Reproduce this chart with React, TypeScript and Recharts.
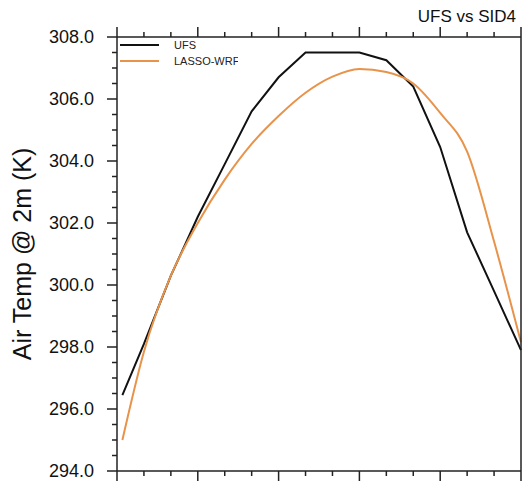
import { Line, LineChart, XAxis, YAxis } from "recharts";

// forecast hour of each sample
const hours = [0.2, 1, 2, 3, 4, 5, 6, 7, 8, 9, 10, 11, 12, 13, 14, 15];
const ufs = [
  296.45, 298.1, 300.3, 302.2, 303.9, 305.6, 306.7, 307.5, 307.5, 307.5, 307.25,
  306.4, 304.45, 301.7, 299.8, 297.9,
];
const lasso = [
  295.0, 297.85, 300.3, 302.0, 303.4, 304.55, 305.45, 306.2, 306.72, 306.97,
  306.87, 306.5, 305.55, 304.3, 301.4, 298.15,
];

const xTicks = [0, 1, 2, 3, 4, 5, 6, 7, 8, 9, 10, 11, 12, 13, 14, 15];
const xMajor = [0, 3, 6, 9, 12, 15];
const yTicks = [
  294, 294.5, 295, 295.5, 296, 296.5, 297, 297.5, 298, 298.5, 299, 299.5, 300,
  300.5, 301, 301.5, 302, 302.5, 303, 303.5, 304, 304.5, 305, 305.5, 306, 306.5,
  307, 307.5, 308,
];
const yMajor = [294, 296, 298, 300, 302, 304, 306, 308];

const data = hours.map((h, i) => ({ hour: h, ufs: ufs[i], lasso: lasso[i] }));

const FONT = "'Liberation Sans', Arial, Helvetica, sans-serif";
const AXIS = "#222";
const ORANGE = "#e8934a";

function XTick(props: any) {
  const { x, y, payload, top } = props;
  const len = xMajor.includes(payload.value) ? 10 : 5;
  return (
    <line x1={x} x2={x} y1={y} y2={top ? y - len : y + len} stroke={AXIS} strokeWidth={1.5} />
  );
}

function YTick(props: any) {
  const { x, y, payload, right } = props;
  const major = yMajor.includes(payload.value);
  const len = major ? 10 : 5;
  return (
    <g>
      <line x1={x} x2={right ? x + len : x - len} y1={y} y2={y} stroke={AXIS} strokeWidth={1.5} />
      {!right && major ? (
        <text
          x={x - 23}
          y={y}
          textAnchor="end"
          dominantBaseline="central"
          fontSize={18}
          fontFamily={FONT}
          fill="#111"
        >
          {payload.value.toFixed(1)}
        </text>
      ) : null}
    </g>
  );
}

export default function App() {
  return (
    <div style={{ position: "absolute", left: 0, top: 0, width: 528, height: 483, fontFamily: FONT }}>
      <LineChart
        width={528}
        height={483}
        data={data}
        margin={{ top: 36, right: 6, bottom: 11, left: 116 }}
      >
        <XAxis
          xAxisId="bottom"
          dataKey="hour"
          type="number"
          domain={[0, 15]}
          ticks={xTicks}
          interval={0}
          height={1}
          tickSize={0}
          tickMargin={0}
          tickLine={false}
          axisLine={{ stroke: AXIS, strokeWidth: 1.5 }}
          tick={(p: any) => <XTick {...p} />}
        />
        <XAxis
          xAxisId="top"
          orientation="top"
          dataKey="hour"
          type="number"
          domain={[0, 15]}
          ticks={xTicks}
          interval={0}
          height={1}
          tickSize={0}
          tickMargin={0}
          tickLine={false}
          axisLine={{ stroke: AXIS, strokeWidth: 1.5 }}
          tick={(p: any) => <XTick {...p} top />}
        />
        <YAxis
          yAxisId="left"
          type="number"
          domain={[294, 308]}
          ticks={yTicks}
          interval={0}
          width={1}
          tickSize={0}
          tickMargin={0}
          tickLine={false}
          axisLine={{ stroke: AXIS, strokeWidth: 1.5 }}
          tick={(p: any) => <YTick {...p} />}
        />
        <YAxis
          yAxisId="right"
          orientation="right"
          type="number"
          domain={[294, 308]}
          ticks={yTicks}
          interval={0}
          width={1}
          tickSize={0}
          tickMargin={0}
          tickLine={false}
          axisLine={{ stroke: AXIS, strokeWidth: 1.5 }}
          tick={(p: any) => <YTick {...p} right />}
        />
        <Line
          xAxisId="bottom"
          yAxisId="left"
          type="linear"
          dataKey="ufs"
          stroke="#111"
          strokeWidth={2}
          dot={false}
          isAnimationActive={false}
        />
        <Line
          xAxisId="bottom"
          yAxisId="left"
          type="monotone"
          dataKey="lasso"
          stroke={ORANGE}
          strokeWidth={2}
          dot={false}
          isAnimationActive={false}
        />
      </LineChart>

      {/* titles and legend laid over the svg */}
      <div style={{ position: "absolute", right: 12, top: 7, fontSize: 17, color: "#111" }}>
        UFS vs SID4
      </div>
      <div
        style={{
          position: "absolute",
          left: 22,
          top: 254,
          transform: "translate(-50%, -50%) rotate(-90deg)",
          whiteSpace: "nowrap",
          fontSize: 25,
          color: "#111",
        }}
      >
        Air Temp @ 2m (K)
      </div>
      <svg style={{ position: "absolute", left: 118, top: 38 }} width={120} height={32}>
        <line x1={2} x2={41} y1={7} y2={7} stroke="#111" strokeWidth={2} />
        <line x1={2} x2={41} y1={23} y2={23} stroke={ORANGE} strokeWidth={2} />
        <text x={56} y={7} dominantBaseline="central" fontSize={11} fontFamily={FONT} fill="#222">
          UFS
        </text>
        <text x={56} y={23} dominantBaseline="central" fontSize={11} fontFamily={FONT} fill="#222">
          LASSO-WRF
        </text>
      </svg>
    </div>
  );
}
